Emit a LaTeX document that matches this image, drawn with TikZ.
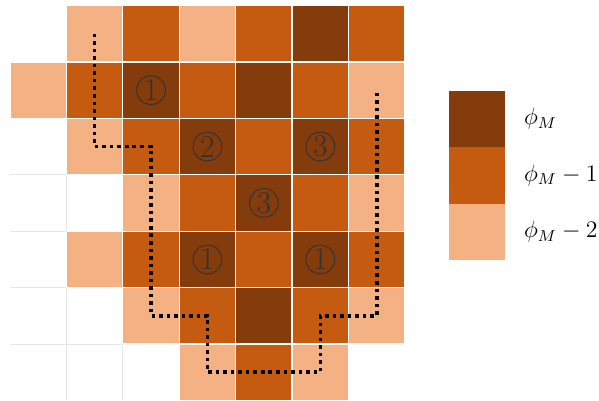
\documentclass[tikz,border=0pt]{standalone}
\usetikzlibrary{positioning}
\definecolor{darkor}{HTML}{843C0C}
\definecolor{midor}{HTML}{C55A11}
\definecolor{lightor}{HTML}{F4B183}
\tikzset{
  cell/.style={draw=white, line width=0.6pt},
  numcirc/.style={circle, draw=black!80, line width=0.5pt, inner sep=0pt,
    minimum size=0.51cm, text=black!80, font=\fontsize{16}{16}\selectfont},
  legbox/.style={minimum size=1cm, inner sep=0pt},
  leglabel/.style={right=0.32cm of #1, inner sep=0pt, font=\large}
}
\begin{document}
\begin{tikzpicture}
  \useasboundingbox (-0.177,-7) rectangle (10.44,0.0975);

  % grid
  \foreach \i in {1,...,6} {
    \draw[black!10, line width=0.5pt] (0,-\i) -- (7,-\i);
    \draw[black!10, line width=0.5pt] (\i,0) -- (\i,-7);
  }

  % cells
  \foreach \c/\r in {1/0,3/0,0/1,6/1,1/2,2/3,6/3,1/4,2/5,6/5,3/6,5/6}
    \fill[cell, fill=lightor] (\c,-\r) rectangle ++(1,-1);
  \foreach \c/\r in {2/0,4/0,6/0,1/1,3/1,5/1,2/2,4/2,6/2,3/3,5/3,2/4,4/4,6/4,3/5,5/5,4/6}
    \fill[cell, fill=midor] (\c,-\r) rectangle ++(1,-1);
  \foreach \c/\r in {5/0,2/1,4/1,3/2,5/2,4/3,3/4,5/4,4/5}
    \fill[cell, fill=darkor] (\c,-\r) rectangle ++(1,-1);

  % numbers
  \node[numcirc] (n1a) at (2.5,-1.5) {1};
  \node[numcirc] (n2) at (3.5,-2.5) {2};
  \node[numcirc] (n3a) at (5.5,-2.5) {3};
  \node[numcirc] (n3b) at (4.5,-3.5) {3};
  \node[numcirc] (n1b) at (3.5,-4.5) {1};
  \node[numcirc] (n1c) at (5.5,-4.5) {1};

  % path
  \draw[line width=1.8pt, dotted] (1.5,-0.5) -- (1.5,-2.5) -- (2.5,-2.5)
    -- (2.5,-5.5) -- (3.5,-5.5) -- (3.5,-6.5) -- (5.5,-6.5) -- (5.5,-5.5)
    -- (6.5,-5.5) -- (6.5,-1.5);

  % legend
  \node[legbox, fill=darkor] (legdark) at (8.28,-2.01) {};
  \node[legbox, fill=midor] (legmid) at (8.28,-3.01) {};
  \node[legbox, fill=lightor] (leglight) at (8.28,-4.01) {};
  \node[leglabel=legdark] (labdark) {$\phi_M$};
  \node[leglabel=legmid] (labmid) {$\phi_M-1$};
  \node[leglabel=leglight] (lablight) {$\phi_M-2$};
\end{tikzpicture}
\end{document}
